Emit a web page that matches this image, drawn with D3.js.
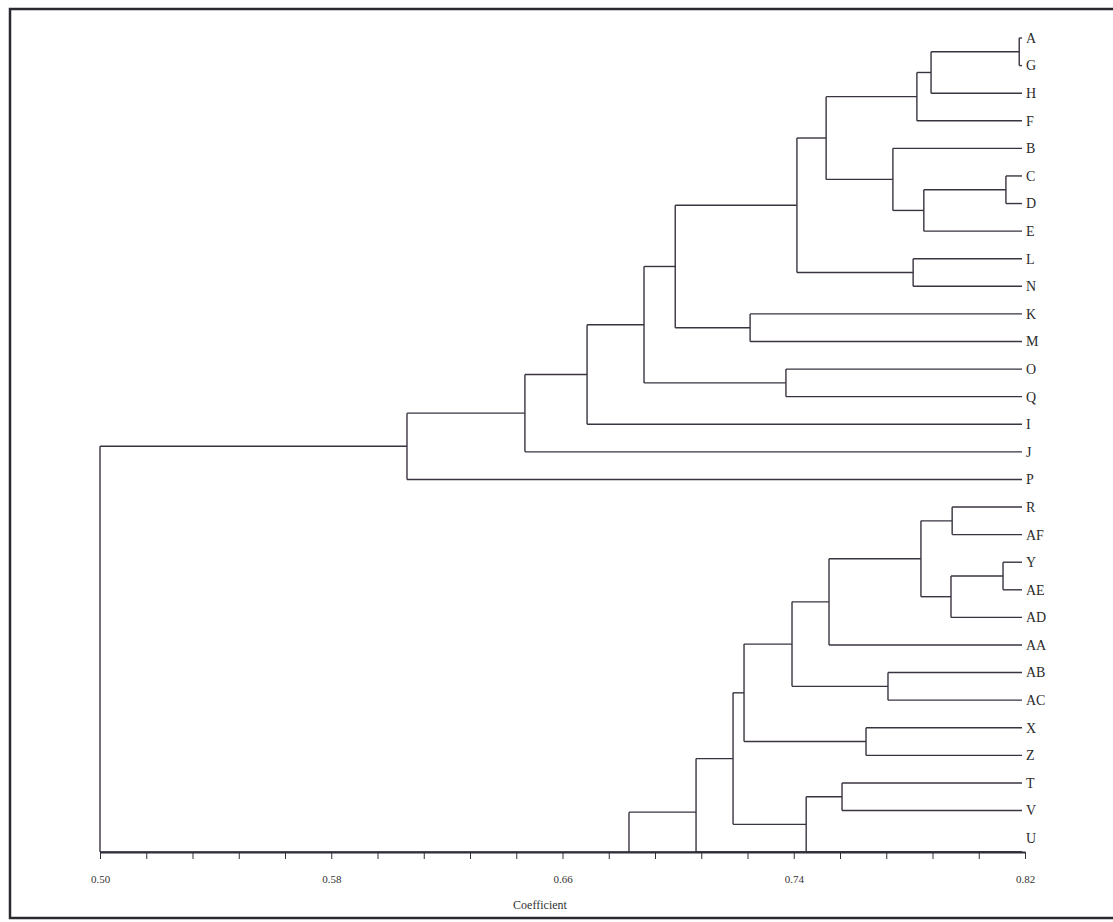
<!DOCTYPE html>
<html>
<head>
<meta charset="utf-8">
<script src="https://cdn.jsdelivr.net/npm/d3@7"></script>
<style>
  body { margin: 0; background: #fff; }
  svg { display: block; }
  .link { stroke: #3a3340; stroke-width: 1.4; fill: none; }
  .leaf-label { font-family: "Liberation Serif", "DejaVu Serif", serif; font-size: 14px; fill: #2a2a2a; }
  .axis text { font-family: "Liberation Serif", serif; font-size: 11px; fill: #333; }
  .axis path, .axis line { stroke: #2f2f3a; }
</style>
</head>
<body>
<svg id="chart" width="1113" height="922"></svg>
<script>
// leaf order top to bottom; W and S fall below the baseline and are squeezed onto it
var leaves = ["A","G","H","F","B","C","D","E","L","N","K","M","O","Q","I","J","P",
  "R","AF","Y","AE","AD","AA","AB","AC","X","Z","T","V","U","W","S"];

// leaves the program drew on the axis line itself
var onAxis = ["U","W","S"];

// [node, child 1, child 2, coefficient]
var merges = [
  ["n1","A","G",0.818],
  ["n2","n1","H",0.7875],
  ["n3","n2","F",0.7826],
  ["n4","C","D",0.8134],
  ["n5","n4","E",0.785],
  ["n6","B","n5",0.7743],
  ["n7","n3","n6",0.7512],
  ["n8","L","N",0.7813],
  ["n9","n7","n8",0.7411],
  ["n10","K","M",0.7249],
  ["n11","n9","n10",0.699],
  ["n12","O","Q",0.7373],
  ["n13","n11","n12",0.6882],
  ["n14","n13","I",0.6685],
  ["n15","n14","J",0.647],
  ["n16","n15","P",0.6062],
  ["n17","R","AF",0.7948],
  ["n18","Y","AE",0.8124],
  ["n19","n18","AD",0.7944],
  ["n20","n17","n19",0.784],
  ["n21","n20","AA",0.7522],
  ["n22","AB","AC",0.7726],
  ["n23","n21","n22",0.7394],
  ["n24","X","Z",0.765],
  ["n25","n23","n24",0.7228],
  ["n26","T","V",0.7567],
  ["n27","n26","U",0.7443],
  ["n28","n25","n27",0.719],
  ["n29","n28","W",0.7062],
  ["n30","n29","S",0.683],
  ["root","n16","n30",0.50]
];

var majorTicks = [0.50, 0.58, 0.66, 0.74, 0.82];
var minorStep = 0.016;
var axisTitle = "Coefficient";

var svg = d3.select("#chart");
var baseline = 852;

var x = d3.scaleLinear().domain([0.50, 0.82]).range([100, 1025]);
var y = d3.scalePoint().domain(leaves).range([38, 38 + 27.59 * (leaves.length - 1)]);

// frame
svg.append("path")
  .attr("d", "M1120,9 H10 V918 H1120")
  .attr("fill", "none")
  .attr("stroke", "#2c2a30")
  .attr("stroke-width", 2.5);

var nodes = {};
leaves.forEach(function(d) {
  var ly = y(d);
  if (onAxis.indexOf(d) >= 0) ly = Math.max(ly, baseline);
  nodes[d] = { y: ly, leaf: true };
});
merges.forEach(function(m) {
  nodes[m[0]] = { y: (nodes[m[1]].y + nodes[m[2]].y) / 2, h: m[3], leaf: false };
});

function cy(v) { return Math.min(v, baseline); }
function endX(n) { return n.leaf ? x(0.82) - 3 : x(n.h); }

var g = svg.append("g");
merges.forEach(function(m) {
  var p = nodes[m[0]], a = nodes[m[1]], b = nodes[m[2]];
  var px = x(p.h);
  g.append("path")
    .attr("class", "link")
    .attr("d", "M" + px + "," + cy(a.y) + "V" + cy(b.y));
  [a, b].forEach(function(c) {
    g.append("path")
      .attr("class", "link")
      .attr("d", "M" + px + "," + cy(c.y) + "H" + endX(c));
  });
});

// labels only for leaves whose slot is above the axis
g.selectAll("text.leaf-label")
  .data(leaves.filter(function(d) { return y(d) < baseline - 5; }))
  .enter().append("text")
  .attr("class", "leaf-label")
  .attr("x", x(0.82) + 1)
  .attr("y", function(d) { return y(d); })
  .attr("dy", "0.35em")
  .text(function(d) { return d; });

var ticks = d3.range(0.50, 0.82 + 1e-9, minorStep);
var axis = d3.axisBottom(x)
  .tickValues(ticks)
  .tickSizeInner(7)
  .tickSizeOuter(0)
  .tickPadding(16)
  .tickFormat(function(d) {
    var isMajor = majorTicks.some(function(t) { return Math.abs(t - d) < 1e-6; });
    return isMajor ? d3.format(".2f")(d) : "";
  });

var ax = svg.append("g")
  .attr("class", "axis")
  .attr("transform", "translate(0," + baseline + ")")
  .call(axis);
ax.select(".domain").attr("stroke-width", 2.2);

svg.append("text")
  .attr("x", 540)
  .attr("y", 909)
  .attr("text-anchor", "middle")
  .style("font-family", "Liberation Serif, serif")
  .style("font-size", "12px")
  .style("fill", "#333")
  .text(axisTitle);
</script>
</body>
</html>
